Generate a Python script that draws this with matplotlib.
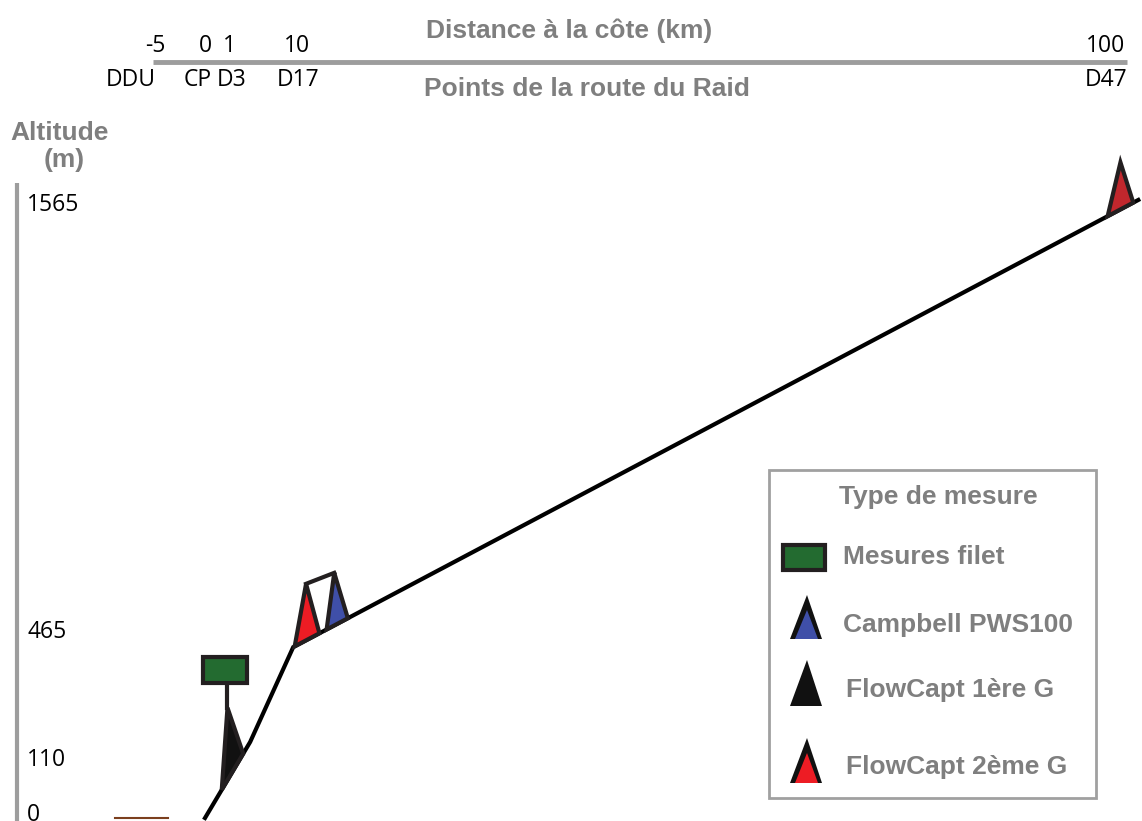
import numpy as np
import matplotlib
matplotlib.use('agg')
import matplotlib.pyplot as plt
from matplotlib.patches import Polygon, Rectangle
from matplotlib.transforms import IdentityTransform, blended_transform_factory

# profil du Raid : distance à la côte (km) / altitude (m)
profil_km = [0, 3.8, 9.5, 102]
profil_alt = [0, 160, 423, 1578]

# graduations
dist_ticks = [-5, 0, 1, 10, 100]
dist_labels = ['-5', '0', '1', '10', '100']
route_labels = ['DDU', 'CP', 'D3', 'D17', 'D47']
alt_ticks = [0, 110, 465, 1565]

# instruments le long de la route
instr_km = [1.46, 11.1, 14.4, 100.05]
instr_type = ['FlowCapt 1ère G', 'FlowCapt 2ème G', 'Campbell PWS100', 'FlowCapt 2ème G']

legend_labels = ['Mesures filet', 'Campbell PWS100', 'FlowCapt 1ère G', 'FlowCapt 2ème G']

# couleurs
GRIS = '#7f7f7f'
TRAIT = '#231f20'
VERT = '#236b30'
couleurs = {'Campbell PWS100': '#3f4fa8', 'FlowCapt 1ère G': '#111111',
            'FlowCapt 2ème G': '#ed1c24'}
instr_couleur = [couleurs[t] for t in instr_type]
instr_couleur[3] = '#c1272d'
# forme des triangles (demi-base, décalage du sommet, hauteur) en pixels
instr_forme = [(21, -5, 64), (14, -1, 56), (12, -3, 51), (14.5, 0, 47)]

# échelles schématiques (non linéaires)
KM_ANCHOR = [-25, -5, 0, 1, 10, 100, 120]
X_PX = [-45, 155, 205, 229, 297, 1120, 1303]
ALT_ANCHOR = [-100, 0, 110, 465, 1565, 2300]
Y_PX = [-49.7, 3, 61, 189, 616, 901]

W, H = 1142, 821

plt.rcParams['font.family'] = 'Open Sans'


def fx(k):
    return np.interp(k, KM_ANCHOR, X_PX)


def fx_inv(p):
    return np.interp(p, X_PX, KM_ANCHOR)


def fy(a):
    return np.interp(a, ALT_ANCHOR, Y_PX)


def fy_inv(p):
    return np.interp(p, Y_PX, ALT_ANCHOR)


def px(x, y):
    # pixel (origine en haut) -> coordonnées écran
    return (x, H - y)


fig = plt.figure(figsize=(W / 100, H / 100), dpi=100)
ax = fig.add_axes([0, 0, 1, 1])
ax.set_xscale('function', functions=(fx, fx_inv))
ax.set_yscale('function', functions=(fy, fy_inv))
ax.set_xlim(fx_inv(0), fx_inv(W))
ax.set_ylim(fy_inv(0), fy_inv(H))
ax.axis('off')

ident = IdentityTransform()
bold = dict(family='Liberation Sans', fontweight='bold', color=GRIS, fontsize=19)

# axe du haut
xtop = blended_transform_factory(ax.transData, ax.transAxes)
ax.plot([-5.2, 100.8], [1 - 62 / H] * 2, transform=xtop, color='#9d9d9d', lw=3.5,
        solid_capstyle='butt')
dx_num = [0, 0, 0, 0, -14]
dx_nom = [-24, -7, 3, 1, -14]
for k, lbl, dx in zip(dist_ticks, dist_labels, dx_num):
    ax.annotate(lbl, (k, 1 - 46 / H), xycoords=xtop, xytext=(dx, 0),
                textcoords='offset pixels', ha='center', va='center', fontsize=16.5)
for k, lbl, dx in zip(dist_ticks, route_labels, dx_nom):
    ax.annotate(lbl, (k, 1 - 80 / H), xycoords=xtop, xytext=(dx, 0),
                textcoords='offset pixels', ha='center', va='center', fontsize=16.5)
ax.text(569 / W, 1 - 31 / H, 'Distance à la côte (km)', transform=ax.transAxes,
        ha='center', va='center', **bold)
ax.text(587 / W, 1 - 89 / H, 'Points de la route du Raid', transform=ax.transAxes,
        ha='center', va='center', **bold)

# axe des altitudes
yleft = blended_transform_factory(ax.transAxes, ax.transData)
ax.plot([17 / W, 17 / W], [0, 1 - 183 / H], transform=ax.transAxes, color='#9d9d9d',
        lw=3, solid_capstyle='butt')
for a in alt_ticks:
    ax.annotate(str(a), (27 / W, a), xycoords=yleft, xytext=(0, 3 if a == 0 else 0),
                textcoords='offset pixels', ha='left', va='center', fontsize=16.5)
ax.text(60 / W, 1 - 133 / H, 'Altitude', transform=ax.transAxes, ha='center',
        va='center', **bold)
ax.text(64 / W, 1 - 160 / H, '(m)', transform=ax.transAxes, ha='center',
        va='center', **bold)

# niveau de la mer à DDU
ax.plot([-9, -3.7], [0, 0], color='#7b3f1e', lw=1.5)

# profil
ax.plot(profil_km, profil_alt, color='black', lw=3, solid_joinstyle='miter', zorder=3)

# instruments (triangles sur le profil, en pixels)
prof_disp = ax.transData.transform(np.column_stack([profil_km, profil_alt]))
apex = []
for k, c, (hb, dxa, h) in zip(instr_km, instr_couleur, instr_forme):
    xc = fx(k)
    yc = np.interp(xc, prof_disp[:, 0], prof_disp[:, 1])
    slope = np.interp(xc + 1, prof_disp[:, 0], prof_disp[:, 1]) - yc
    u = np.array([1, slope]) / np.hypot(1, slope)
    p1 = np.array([xc, yc]) - hb * u
    p2 = np.array([xc, yc]) + hb * u
    top = np.array([xc + dxa, yc + h])
    apex.append(top)
    ax.add_patch(Polygon([p1, top, p2], closed=True, facecolor=c, edgecolor=TRAIT,
                         lw=3, joinstyle='miter', transform=ident, zorder=4))

# liaison entre les deux capteurs de D17
ax.plot([apex[1][0], apex[2][0]], [apex[1][1], apex[2][1]], color=TRAIT, lw=3,
        transform=ident, zorder=4)

# filet de D3 au-dessus du FlowCapt
mat_bas = apex[0] + np.array([0, 25])
ax.plot([apex[0][0], apex[0][0]], [apex[0][1], mat_bas[1]], color=TRAIT, lw=3,
        transform=ident, zorder=4)
ax.add_patch(Rectangle((mat_bas[0] - 24, mat_bas[1]), 44, 26, facecolor=VERT,
                       edgecolor=TRAIT, lw=3, transform=ident, zorder=5))

# légende
ax.add_patch(Rectangle(px(769, 798), 327, 328, facecolor='white', edgecolor='#a0a0a0',
                       lw=2, transform=ident, zorder=5))
ax.text(938 / W, 1 - 497 / H, 'Type de mesure', transform=ax.transAxes, ha='center',
        va='center', zorder=6, **bold)
ax.add_patch(Rectangle(px(783, 570), 42, 25, facecolor=VERT, edgecolor=TRAIT, lw=3,
                       transform=ident, zorder=6))
leg_y = [557, 625, 690, 767]
leg_x = [843, 843, 846, 846]
tri_y = [(639, 595), (706, 660), (783, 738)]
for (yb, ya), t in zip(tri_y, legend_labels[1:]):
    ax.add_patch(Polygon([px(790, yb), px(807, ya), px(822, yb)], closed=True,
                         facecolor='#111111', edgecolor='none', transform=ident, zorder=6))
    ax.add_patch(Polygon([px(795, yb), px(807, ya + 15), px(818, yb)], closed=True,
                         facecolor=couleurs[t], edgecolor='none', transform=ident, zorder=7))
for t, x, y in zip(legend_labels, leg_x, leg_y):
    ax.text(x / W, 1 - y / H, t, transform=ax.transAxes, ha='left', va='center',
            zorder=7, **bold)

fig.savefig('out.png', dpi=100)
